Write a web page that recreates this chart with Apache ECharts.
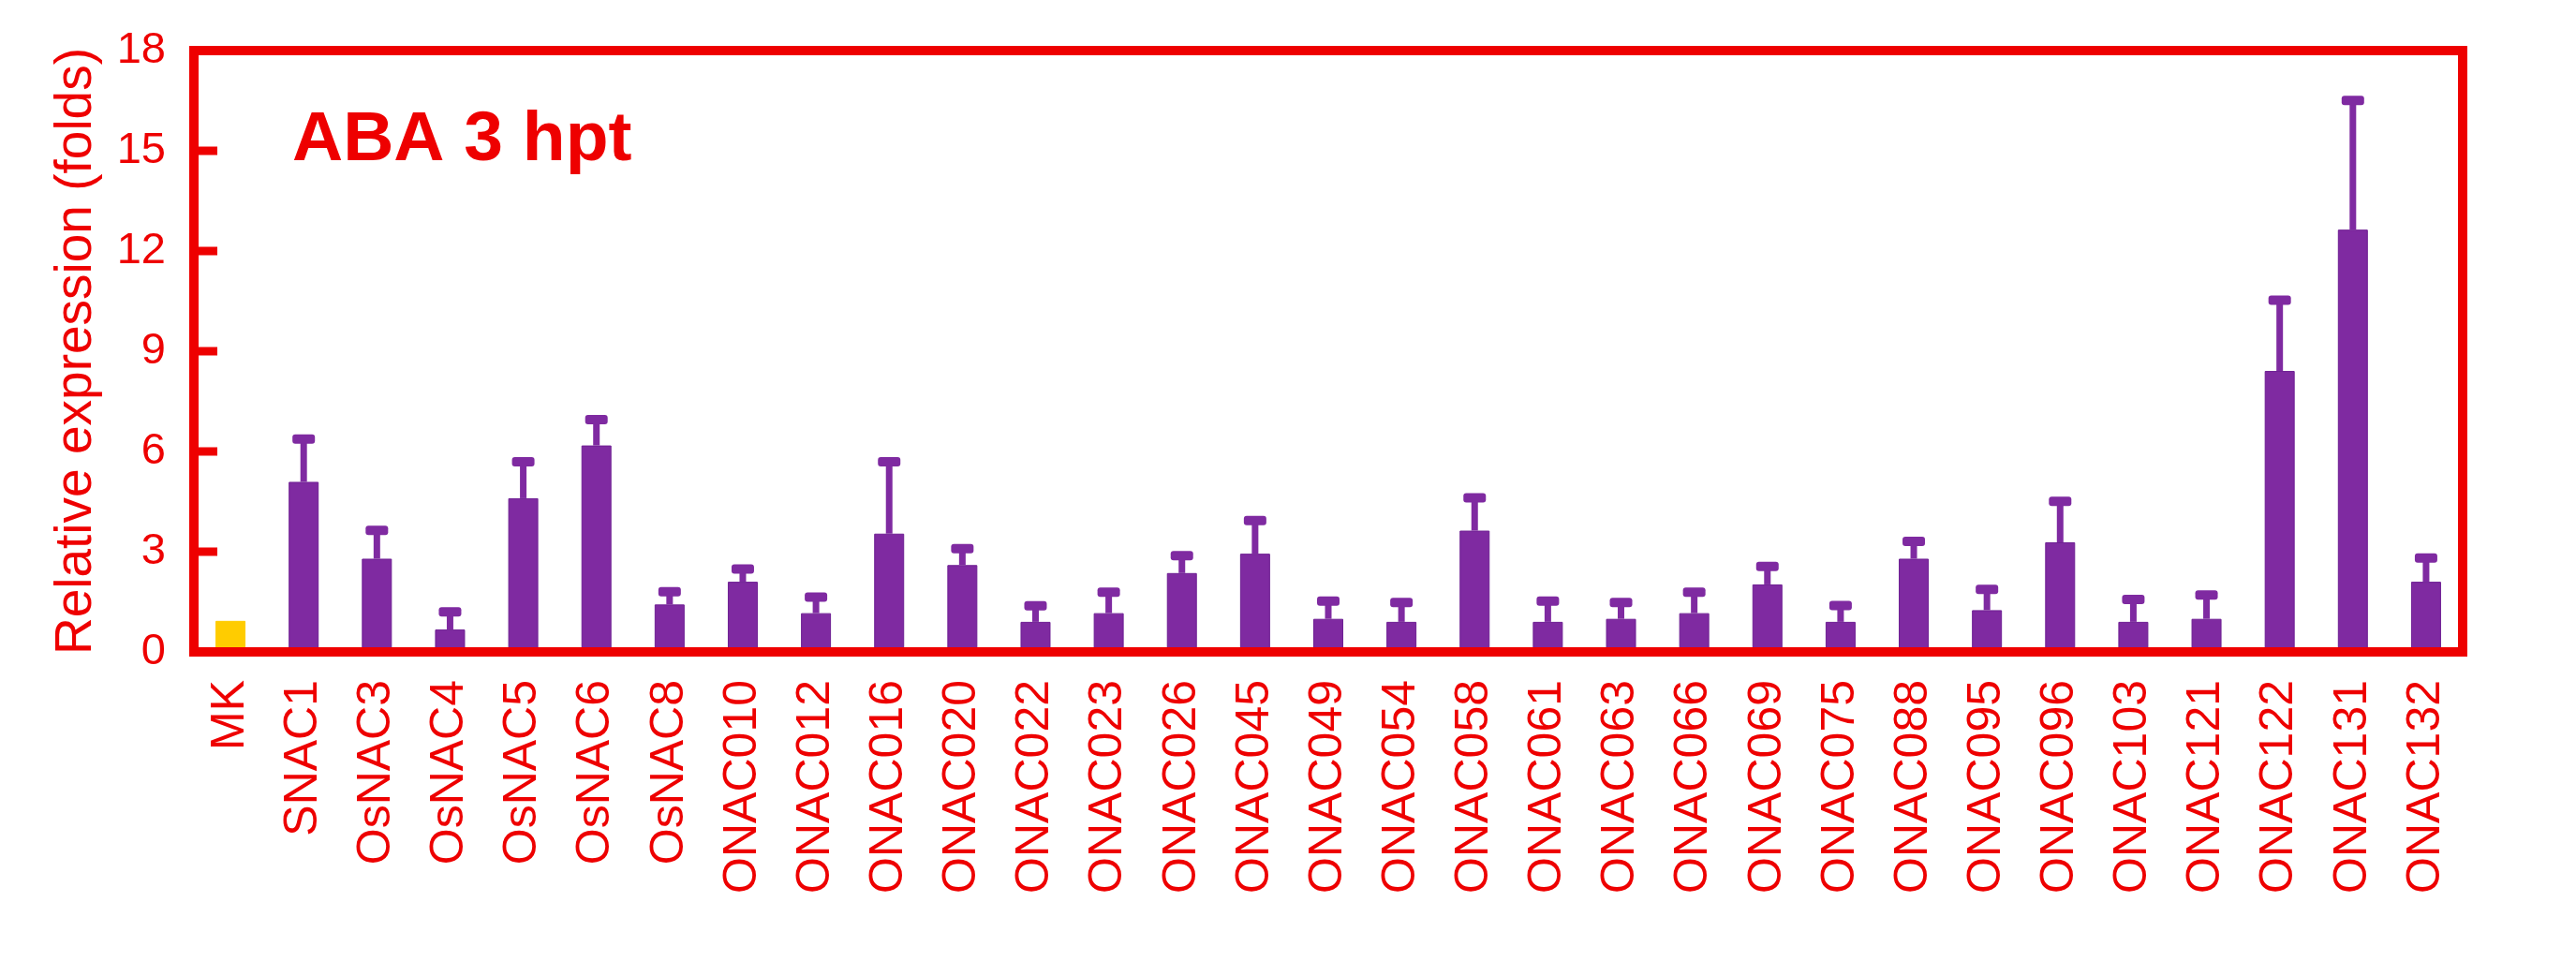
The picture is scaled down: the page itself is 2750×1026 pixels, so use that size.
<!DOCTYPE html>
<html>
<head>
<meta charset="utf-8">
<script src="https://cdn.jsdelivr.net/npm/echarts@6/dist/echarts.min.js"></script>
<style>
  html, body { margin: 0; padding: 0; background: #fff; }
  #main { width: 2750px; height: 1026px; }
</style>
</head>
<body>
<div id="main"></div>
<script>
// genes on the x axis
var genes = ['MK', 'SNAC1', 'OsNAC3', 'OsNAC4', 'OsNAC5', 'OsNAC6', 'OsNAC8',
  'ONAC010', 'ONAC012', 'ONAC016', 'ONAC020', 'ONAC022', 'ONAC023', 'ONAC026',
  'ONAC045', 'ONAC049', 'ONAC054', 'ONAC058', 'ONAC061', 'ONAC063', 'ONAC066',
  'ONAC069', 'ONAC075', 'ONAC088', 'ONAC095', 'ONAC096', 'ONAC103', 'ONAC121',
  'ONAC122', 'ONAC131', 'ONAC132']
// relative expression (folds)
var expression = [0.93, 5.09, 2.79, 0.67, 4.60, 6.18, 1.42, 2.10, 1.16, 3.54, 2.60,
  0.90, 1.16, 2.36, 2.94, 0.99, 0.90, 3.63, 0.90, 0.99, 1.16, 2.02, 0.90, 2.79,
  1.25, 3.28, 0.90, 0.99, 8.41, 12.64, 2.10]
// error (upper part only)
var errors = [0, 1.28, 0.85, 0.53, 1.09, 0.77, 0.38, 0.38, 0.48, 2.15, 0.49, 0.48,
  0.63, 0.52, 0.99, 0.53, 0.58, 0.98, 0.62, 0.49, 0.63, 0.54, 0.49, 0.52, 0.62,
  1.23, 0.67, 0.71, 2.12, 3.87, 0.71]
var yTicks = [0, 3, 6, 9, 12, 15, 18]

var red = '#EE0000'
var purple = '#7F2AA1'
var font = "'Liberation Sans', Arial, sans-serif"

var barData = expression.map(function (v, i) {
  return i === 0 ? { value: v, itemStyle: { color: '#FFCC00', borderColor: '#FFCC00' } } : v
})
var errData = []
expression.forEach(function (v, i) {
  if (errors[i] > 0) errData.push([i, v, v + errors[i]])
})
var tickData = yTicks.slice(1, -1).map(function (t) { return [0, t] })

var myChart = echarts.init(document.getElementById('main'))
myChart.setOption({
  animation: false,
  backgroundColor: '#fff',
  grid: {
    left: 207,
    right: 121,
    top: 54,
    bottom: 330,
    show: true,
    z: 5,
    backgroundColor: 'transparent',
    borderColor: red,
    borderWidth: 10
  },
  graphic: [{
    type: 'text',
    left: 312,
    top: 113,
    style: {
      text: 'ABA 3 hpt',
      fill: red,
      font: 'bold 75px ' + font
    }
  }],
  xAxis: {
    type: 'category',
    data: genes,
    axisLine: { show: false },
    axisTick: { show: false },
    axisLabel: {
      rotate: 90,
      interval: 0,
      margin: 30,
      color: red,
      fontSize: 50,
      fontFamily: font
    }
  },
  yAxis: {
    type: 'value',
    min: yTicks[0],
    max: yTicks[yTicks.length - 1],
    interval: 3,
    name: 'Relative expression (folds)',
    nameLocation: 'middle',
    nameGap: 98,
    nameTextStyle: { color: red, fontSize: 55, fontFamily: font },
    axisLine: { show: false },
    axisTick: { show: false },
    splitLine: { show: false },
    axisLabel: {
      margin: 30,
      color: red,
      fontSize: 47,
      fontFamily: font
    }
  },
  series: [
    {
      type: 'bar',
      data: barData,
      barWidth: 32,
      itemStyle: { color: purple, borderColor: '#6E1F93', borderWidth: 1 }
    },
    {
      type: 'custom',
      data: errData,
      z: 3,
      renderItem: function (params, api) {
        var i = api.value(0)
        var base = api.coord([i, api.value(1)])
        var top = api.coord([i, api.value(2)])
        var stemW = 7
        var capW = 24
        var capH = 10
        return {
          type: 'group',
          children: [
            {
              type: 'rect',
              shape: { x: base[0] - stemW / 2, y: top[1], width: stemW, height: base[1] - top[1] },
              style: { fill: purple }
            },
            {
              type: 'rect',
              shape: { x: top[0] - capW / 2, y: top[1] - capH / 2, width: capW, height: capH, r: 3 },
              style: { fill: purple }
            }
          ]
        }
      }
    },
    {
      // inward tick marks on the left frame, drawn as rects
      type: 'custom',
      data: tickData,
      z: 6,
      renderItem: function (params, api) {
        var p = api.coord([api.value(0), api.value(1)])
        var x0 = p[0] - api.size([1, 0])[0] / 2
        return {
          type: 'rect',
          shape: { x: x0, y: p[1] - 4.5, width: 25, height: 9 },
          style: { fill: red }
        }
      }
    }
  ]
})
</script>
</body>
</html>
